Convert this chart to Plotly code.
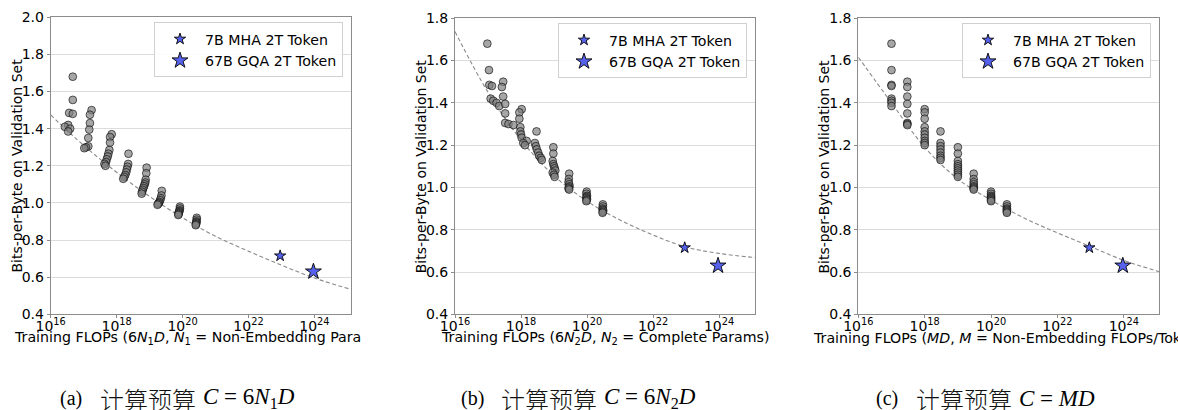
import plotly.graph_objects as go

# ---------------- data ----------------
# compute budgets (log10 FLOPs) of the 8 groups of small runs
budget_log = [17.0, 17.477, 18.0, 18.477, 19.0, 19.477, 20.0, 20.477]

# bits-per-byte of each run, per budget group
bpb_g1 = [1.68, 1.555, 1.485, 1.48, 1.42, 1.41, 1.40, 1.385]
bpb_g2 = [1.50, 1.475, 1.43, 1.395, 1.35, 1.305, 1.30, 1.295]
bpb_g3 = [1.37, 1.355, 1.325, 1.285, 1.265, 1.25, 1.235, 1.22, 1.21, 1.20]
bpb_g4 = [1.265, 1.21, 1.195, 1.18, 1.165, 1.15, 1.14, 1.13]
bpb_g5 = [1.19, 1.16, 1.125, 1.11, 1.10, 1.09, 1.08, 1.07, 1.06, 1.05]
bpb_g6 = [1.065, 1.04, 1.025, 1.015, 1.005, 1.0, 0.995, 0.99]
bpb_g7 = [0.98, 0.97, 0.96, 0.955, 0.95, 0.945, 0.94, 0.935]
bpb_g8 = [0.92, 0.91, 0.90, 0.895, 0.89, 0.885, 0.88]

# log10 of 6*N1*D for each run (panel a)
xa_g1 = [16.67, 16.67, 16.56, 16.67, 16.53, 16.43, 16.59, 16.53]
xa_g2 = [17.24, 17.19, 17.19, 17.17, 17.14, 17.14, 17.07, 17.02]
xa_g3 = [17.85, 17.80, 17.80, 17.78, 17.75, 17.73, 17.70, 17.68, 17.63, 17.66]
xa_g4 = [18.36, 18.35, 18.33, 18.31, 18.29, 18.26, 18.23, 18.20]
xa_g5 = [18.91, 18.90, 18.88, 18.87, 18.85, 18.83, 18.81, 18.79, 18.77, 18.76]
xa_g6 = [19.37, 19.36, 19.34, 19.32, 19.30, 19.28, 19.26, 19.24]
xa_g7 = [19.92, 19.92, 19.91, 19.90, 19.89, 19.88, 19.88, 19.87]
xa_g8 = [20.43, 20.43, 20.42, 20.42, 20.41, 20.41, 20.40]

# log10 of 6*N2*D for each run (panel b)
xb_g1 = [16.98, 17.03, 17.04, 17.12, 17.08, 17.16, 17.26, 17.34]
xb_g2 = [17.46, 17.42, 17.46, 17.52, 17.52, 17.52, 17.62, 17.77]
xb_g3 = [18.02, 17.95, 17.95, 17.98, 17.98, 18.00, 18.02, 18.17, 18.07, 18.12]
xb_g4 = [18.47, 18.42, 18.45, 18.48, 18.52, 18.55, 18.60, 18.63]
xb_g5 = [18.98, 18.98, 18.96, 18.98, 19.00, 19.02, 19.04, 18.96, 19.00, 19.02]
xb_g6 = [19.46, 19.45, 19.44, 19.46, 19.47, 19.45, 19.44, 19.46]
xb_g7 = [19.99, 19.98, 20.00, 19.99, 19.98, 20.00, 19.99, 19.98]
xb_g8 = [20.48, 20.48, 20.47, 20.48, 20.49, 20.48, 20.47]

# the two large models
star_names = ["7B MHA 2T Token", "67B GQA 2T Token"]
star_flops_log = [22.96, 23.97]
star_bpb = [0.715, 0.63]

# fitted curves (log10 FLOPs -> bits-per-byte)
fit_a_x = [16, 17, 18, 19, 20, 21, 22, 23, 24, 25.1]
fit_a_y = [1.474, 1.31, 1.165, 1.035, 0.92, 0.82, 0.74, 0.665, 0.595, 0.535]
fit_b_x = [16, 17, 18, 19, 20, 21, 22, 23, 24, 25.1]
fit_b_y = [1.737, 1.45, 1.225, 1.055, 0.935, 0.846, 0.775, 0.718, 0.688, 0.668]
fit_c_x = [16, 17, 18, 19, 20, 21, 22, 23, 24, 25.1]
fit_c_y = [1.616, 1.40, 1.19, 1.04, 0.94, 0.855, 0.785, 0.72, 0.655, 0.60]

x_tick_exp = [16, 18, 20, 22, 24]
caption_tags = ["(a)", "(b)", "(c)"]
caption_text = "计算预算"
caption_math = ["<i>C</i> = 6<i>N</i><sub>1</sub><i>D</i>",
                "<i>C</i> = 6<i>N</i><sub>2</sub><i>D</i>",
                "<i>C</i> = <i>MD</i>"]
x_titles = ["Training FLOPs (6<i>N</i><sub>1</sub><i>D</i>, <i>N</i><sub>1</sub> = Non-Embedding Para",
            "Training FLOPs (6<i>N</i><sub>2</sub><i>D</i>, <i>N</i><sub>2</sub> = Complete Params)",
            "Training FLOPs (<i>MD</i>, <i>M</i> = Non-Embedding FLOPs/Token)"]
y_title = "Bits-per-Byte on Validation Set"

# ---------------- build ----------------
def p10(v):
    return 10.0 ** float(v)

bpb_groups = [bpb_g1, bpb_g2, bpb_g3, bpb_g4, bpb_g5, bpb_g6, bpb_g7, bpb_g8]
xa_groups = [xa_g1, xa_g2, xa_g3, xa_g4, xa_g5, xa_g6, xa_g7, xa_g8]
xb_groups = [xb_g1, xb_g2, xb_g3, xb_g4, xb_g5, xb_g6, xb_g7, xb_g8]
xc_groups = [[b] * len(g) for b, g in zip(budget_log, bpb_groups)]

W, H = 1178, 410
FONT = "DejaVu Sans"
TS = 14.2
px_x = [(50.7, 351.0), (455.0, 755.0), (858.3, 1159.0)]
y_top = [17.3, 18.3, 18.3]
y_bot = 314.3
y_ranges = [[0.4, 2.0], [0.4, 1.8], [0.4, 1.8]]
x_right = [25.11, 25.09, 25.06]

fig = go.Figure()
panels = [
    (xa_groups, fit_a_x, fit_a_y),
    (xb_groups, fit_b_x, fit_b_y),
    (xc_groups, fit_c_x, fit_c_y),
]
star_sizes = [8.5, 12]
legend_ids = ["legend", "legend2", "legend3"]

for i, (xg, fx, fy) in enumerate(panels):
    xa = "x" if i == 0 else f"x{i+1}"
    ya = "y" if i == 0 else f"y{i+1}"
    fig.add_trace(go.Scatter(
        x=[p10(v) for v in fx], y=fy, mode="lines", line_shape="spline",
        line=dict(color="#8a8a8a", width=1.1, dash="4px,2.5px"),
        showlegend=False, hoverinfo="skip", xaxis=xa, yaxis=ya))
    xs, ys = [], []
    for gx, gy in zip(xg, bpb_groups):
        xs += [p10(v) for v in gx]
        ys += gy
    fig.add_trace(go.Scatter(
        x=xs, y=ys, mode="markers",
        marker=dict(symbol="circle", size=7.8, color="rgba(128,128,128,0.7)",
                    line=dict(color="rgba(0,0,0,0.75)", width=0.8)),
        showlegend=False, xaxis=xa, yaxis=ya))
    for k in range(2):
        fig.add_trace(go.Scatter(
            x=[p10(star_flops_log[k])], y=[star_bpb[k]], mode="markers",
            name=star_names[k], legendgroup=f"g{i}{k}",
            marker=dict(symbol="star", size=star_sizes[k], color="#5762ec",
                        line=dict(color="black", width=0.9)),
            showlegend=True, legend=legend_ids[i], xaxis=xa, yaxis=ya))

layout = dict(width=W, height=H, margin=dict(l=0, r=0, t=0, b=0),
              plot_bgcolor="white", paper_bgcolor="white",
              font=dict(family=FONT, size=14, color="black"))

annotations = []
for i in range(3):
    xk = "xaxis" if i == 0 else f"xaxis{i+1}"
    yk = "yaxis" if i == 0 else f"yaxis{i+1}"
    xa = "x" if i == 0 else f"x{i+1}"
    ya = "y" if i == 0 else f"y{i+1}"
    l, r = px_x[i]
    layout[xk] = dict(
        domain=[l / W, r / W], anchor=ya, type="log", range=[16, x_right[i]],
        tickvals=[p10(e) for e in x_tick_exp],
        ticktext=[f"10<sup>{e}</sup>" for e in x_tick_exp],
        showgrid=False, zeroline=False, showline=True, mirror=True,
        linecolor="#8c8c8c", linewidth=1, ticks="outside", ticklen=3,
        tickcolor="#8c8c8c", tickfont=dict(size=14, family=FONT), automargin=False,
        ticklabelstandoff=-4)
    layout[yk] = dict(
        domain=[1 - y_bot / H, 1 - y_top[i] / H], anchor=xa, range=y_ranges[i],
        dtick=0.2, tick0=0.4, tickformat=".1f",
        showgrid=True, gridcolor="#dcdcdc", gridwidth=1, zeroline=False,
        showline=True, mirror=True, linecolor="#8c8c8c", linewidth=1,
        ticks="outside", ticklen=3, tickcolor="#8c8c8c", automargin=False,
        tickfont=dict(size=14, family=FONT))
    layout[legend_ids[i]] = dict(
        x=(r - 8) / W, y=1 - (y_top[i] + 5) / H, xanchor="right", yanchor="top",
        bgcolor="rgba(255,255,255,0.85)", bordercolor="#d0d0d0", borderwidth=1,
        font=dict(size=TS, family=FONT), itemsizing="trace", itemwidth=40,
        tracegroupgap=0, traceorder="grouped")
    annotations.append(dict(
        text=y_title, xref="paper", yref="paper", x=(l - 34) / W,
        y=1 - ((y_top[i] + y_bot) / 2) / H, xanchor="center", yanchor="middle",
        textangle=-90, showarrow=False, font=dict(size=14, family=FONT)))
    if i == 0:
        annotations.append(dict(
            text=x_titles[0], xref="paper", yref="paper", x=12 / W, y=1 - 338 / H,
            xanchor="left", yanchor="middle", showarrow=False,
            font=dict(size=TS, family=FONT)))
    else:
        annotations.append(dict(
            text=x_titles[i], xref="paper", yref="paper", x=((l + r) / 2) / W,
            y=1 - 338 / H, xanchor="center", yanchor="middle", showarrow=False,
            font=dict(size=TS, family=FONT)))

cap_x = [58, 459, 874]
for i in range(3):
    c0 = cap_x[i]
    annotations.append(dict(
        text=caption_tags[i], xref="paper", yref="paper", x=c0 / W, y=1 - 398 / H,
        xanchor="left", yanchor="middle", showarrow=False,
        font=dict(size=20, family="Liberation Serif", color="black")))
    annotations.append(dict(
        text=caption_text, xref="paper", yref="paper", x=(c0 + 40) / W, y=1 - 398 / H,
        xanchor="left", yanchor="middle", showarrow=False,
        font=dict(size=24, family="Noto Sans CJK SC", color="#111111", weight=300)))
    annotations.append(dict(
        text=caption_math[i], xref="paper", yref="paper", x=(c0 + 143) / W, y=1 - 398 / H,
        xanchor="left", yanchor="middle", showarrow=False,
        font=dict(size=23, family="Liberation Serif", color="black")))
layout["annotations"] = annotations

fig.update_layout(**layout)
fig.write_html("out.html", config={"displayModeBar": False},
               post_script="document.body.style.margin='0px';")
